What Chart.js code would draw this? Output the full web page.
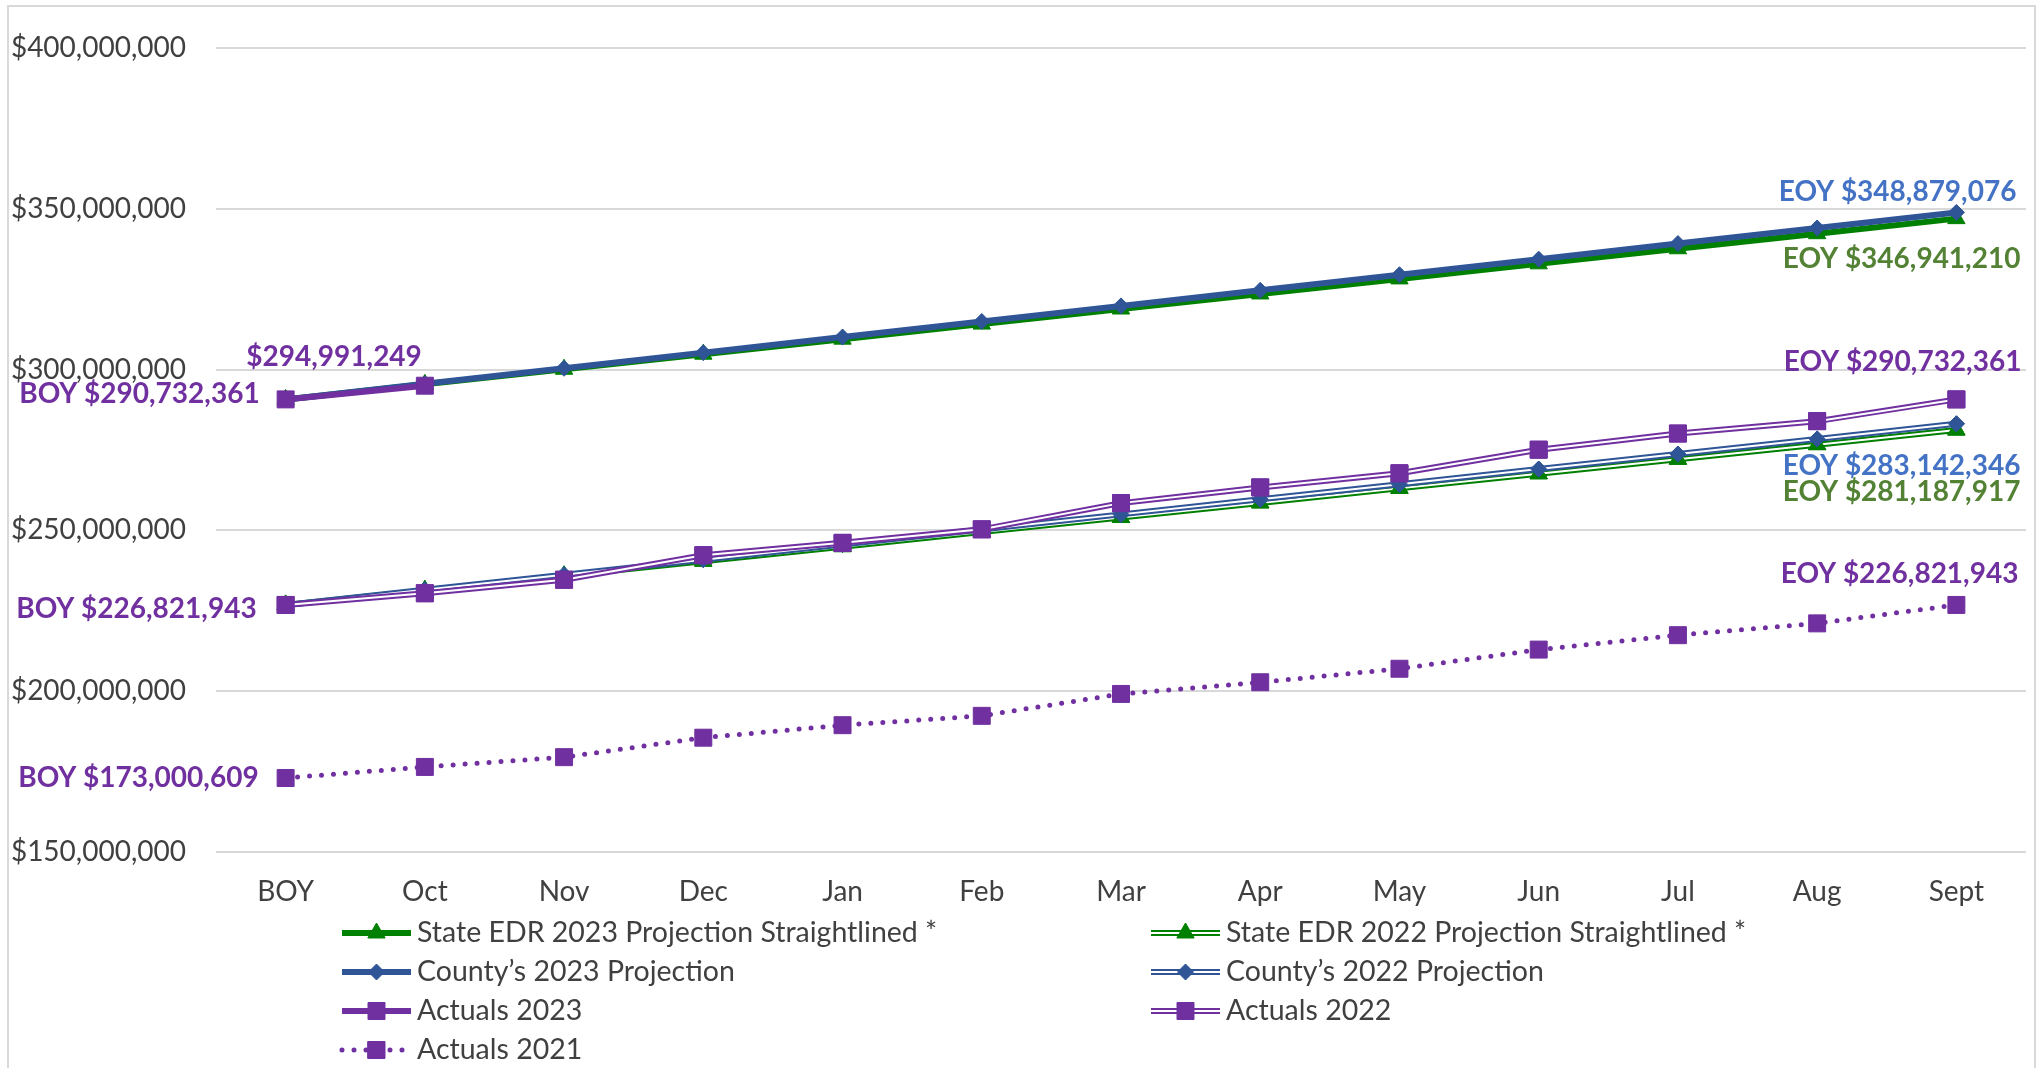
<!DOCTYPE html>
<html>
<head>
<meta charset="utf-8">
<script src="https://cdn.jsdelivr.net/npm/chart.js@4.4.1/dist/chart.umd.min.js"></script>
<style>
  html, body { margin: 0; padding: 0; background: #fff; }
  #wrap { position: relative; width: 2039px; height: 1068px; }
</style>
</head>
<body>
<div id="wrap"><canvas id="myChart" width="2039" height="1068"></canvas></div>
<script>
const categories = ['BOY', 'Oct', 'Nov', 'Dec', 'Jan', 'Feb', 'Mar', 'Apr', 'May', 'Jun', 'Jul', 'Aug', 'Sept'];

// values (the two "straightlined" series are straight in the source)
const stateEdr2023 = [290732361, 295416432, 300100503, 304784573, 309468644, 314152715, 318836786,
                      323520856, 328204927, 332888998, 337573068, 342257139, 346941210];
const stateEdr2022 = [226821943, 231352441, 235882939, 240413437, 244943934, 249474432, 254004930,
                      258535428, 263065926, 267596424, 272126922, 276657419, 281187917];
const county2023 = [290732361, 295577921, 300423480, 305269040, 310114600, 314960159, 319805719,
                    324651278, 329496838, 334342398, 339187957, 344033517, 348879076];
const county2022 = [226821943, 231515310, 236208677, 240902044, 245595411, 250288778, 254982145,
                    259675512, 264368879, 269062246, 273755613, 278448980, 283142346];
const actuals2023 = [290732361, 294991249, null, null, null, null, null, null, null, null, null, null, null];
const actuals2022 = [226821943, 230460000, 234660000, 242280000, 246130000, 250330000, 258480000,
                     263370000, 267760000, 275100000, 280120000, 283970000, 290732361];
const actuals2021 = [173000609, 176450000, 179490000, 185540000, 189430000, 192340000, 199150000,
                     202780000, 206980000, 212940000, 217420000, 221090000, 226821943];

const yTickValues = [150000000, 200000000, 250000000, 300000000, 350000000, 400000000];

const PURPLE = '#7030A0';
const BLUE = '#2F5597';
const GREEN = '#008000';
const LBL_BLUE = '#4472C4';
const LBL_GREEN = '#548235';
const TEXT = '#404040';
const FONT = 'Lato';

const money = v => '$' + v.toLocaleString('en-US');

function series(label, data, color, kind, pointStyle, radius, order) {
    return {
        label: label,
        data: data,
        borderColor: color,
        backgroundColor: color,
        borderWidth: kind == 'dotted' ? 5 : 6,
        borderDash: kind == 'dotted' ? [0, 12] : [],
        borderCapStyle: kind == 'dotted' ? 'round' : 'butt',
        borderJoinStyle: 'round',
        pointStyle: pointStyle,
        pointRadius: radius,
        pointBorderWidth: 1,
        pointBackgroundColor: color,
        pointBorderColor: color,
        tension: 0,
        spanGaps: false,
        kind: kind,
        order: order
    };
}

const datasets = [
    series('State EDR 2023 Projection Straightlined *', stateEdr2023, GREEN, 'solid', 'triangle', 10, 7),
    series('State EDR 2022 Projection Straightlined *', stateEdr2022, GREEN, 'double', 'triangle', 10, 6),
    series('County\u2019s 2023 Projection', county2023, BLUE, 'solid', 'rectRot', 8, 5),
    series('County\u2019s 2022 Projection', county2022, BLUE, 'double', 'rectRot', 8, 4),
    series('Actuals 2023', actuals2023, PURPLE, 'solid', 'rect', 12, 3),
    series('Actuals 2022', actuals2022, PURPLE, 'double', 'rect', 12, 2),
    series('Actuals 2021', actuals2021, PURPLE, 'dotted', 'rect', 12, 1)
];

// BOY / EOY callouts: dataset index, point index, prefix, colour, offset from the point
const callouts = [
    [4, 0, 'BOY ', PURPLE, -26, -5, 'right'],
    [4, 1, '', PURPLE, -3, -29, 'right'],
    [2, 12, 'EOY ', LBL_BLUE, 60, -20, 'right'],
    [0, 12, 'EOY ', LBL_GREEN, 64, 40, 'right'],
    [5, 12, 'EOY ', PURPLE, 65, -37, 'right'],
    [3, 12, 'EOY ', LBL_BLUE, 64, 42, 'right'],
    [1, 12, 'EOY ', LBL_GREEN, 64, 62, 'right'],
    [5, 0, 'BOY ', PURPLE, -29, 4, 'right'],
    [6, 12, 'EOY ', PURPLE, 62, -31, 'right'],
    [6, 0, 'BOY ', PURPLE, -27, 0, 'right']
];

const legendCols = [342, 1151];
const legendRows = [933, 972, 1011, 1050];

function markerAt(ctx, ds, x, y) {
    ctx.fillStyle = ds.pointBackgroundColor;
    ctx.strokeStyle = ds.pointBorderColor;
    ctx.lineWidth = 1;
    ctx.setLineDash([]);
    Chart.helpers.drawPoint(ctx, {pointStyle: ds.pointStyle, radius: ds.pointRadius, rotation: 0, borderWidth: 1}, x, y);
}

const frame = {
    id: 'frame',
    beforeDraw(chart) {
        const ctx = chart.ctx;
        ctx.save();
        ctx.fillStyle = '#fff';
        ctx.fillRect(0, 0, chart.width, chart.height);
        ctx.strokeStyle = '#d9d9d9';
        ctx.lineWidth = 2;
        ctx.strokeRect(8, 6, 2027, 1100);
        ctx.restore();
    }
};

// Excel "double" compound lines: white core over the coloured stroke, then markers again
const doubleLine = {
    id: 'doubleLine',
    afterDatasetDraw(chart, args) {
        const ds = chart.data.datasets[args.index];
        if (ds.kind != 'double') return;
        const ctx = chart.ctx;
        const pts = args.meta.data;
        ctx.save();
        ctx.beginPath();
        pts.forEach((p, i) => i == 0 ? ctx.moveTo(p.x, p.y) : ctx.lineTo(p.x, p.y));
        ctx.strokeStyle = '#fff';
        ctx.lineWidth = 2;
        ctx.lineJoin = 'round';
        ctx.stroke();
        ctx.restore();
        pts.forEach(p => p.draw(ctx, chart.chartArea));
    }
};

const legendBox = {
    id: 'legendBox',
    afterDraw(chart) {
        const ctx = chart.ctx;
        ctx.save();
        chart.data.datasets.forEach((ds, i) => {
            const x = legendCols[i % 2];
            const y = legendRows[Math.floor(i / 2)];
            ctx.beginPath();
            ctx.moveTo(x, y);
            ctx.lineTo(x + 69, y);
            ctx.strokeStyle = ds.borderColor;
            ctx.lineWidth = ds.borderWidth;
            ctx.lineCap = ds.borderCapStyle;
            ctx.setLineDash(ds.borderDash);
            ctx.stroke();
            if (ds.kind == 'double') {
                ctx.beginPath();
                ctx.moveTo(x, y);
                ctx.lineTo(x + 69, y);
                ctx.strokeStyle = '#fff';
                ctx.lineWidth = 2;
                ctx.stroke();
            }
            markerAt(ctx, ds, x + 34.5, y);
            ctx.fillStyle = TEXT;
            ctx.font = '28.5px ' + FONT;
            ctx.textAlign = 'left';
            ctx.textBaseline = 'middle';
            ctx.fillText(ds.label, x + 75, y);
        });
        ctx.restore();
    }
};

const calloutLabels = {
    id: 'calloutLabels',
    afterDraw(chart) {
        const ctx = chart.ctx;
        ctx.save();
        ctx.font = 'bold 28px ' + FONT;
        ctx.textBaseline = 'middle';
        callouts.forEach(c => {
            const [di, pi, prefix, color, dx, dy, align] = c;
            const pt = chart.getDatasetMeta(di).data[pi];
            ctx.fillStyle = color;
            ctx.textAlign = align;
            ctx.fillText(prefix + money(chart.data.datasets[di].data[pi]), pt.x + dx, pt.y + dy);
        });
        ctx.restore();
    }
};

const ctx = document.getElementById('myChart').getContext('2d');
const myChart = new Chart(ctx, {
    type: 'line',
    data: {
        labels: categories,
        datasets: datasets
    },
    options: {
        responsive: false,
        animation: false,
        devicePixelRatio: 1,
        layout: {
            padding: {left: 0, right: 8, top: 48, bottom: 0}
        },
        plugins: {
            legend: {display: false},
            tooltip: {enabled: false},
            title: {display: false}
        },
        scales: {
            x: {
                offset: true,
                grid: {display: false},
                border: {display: false},
                ticks: {
                    color: TEXT,
                    font: {family: FONT, size: 28},
                    padding: 15,
                    maxRotation: 0
                },
                afterFit: s => { s.height = 216; }
            },
            y: {
                min: 150000000,
                max: 400000000,
                grid: {color: '#d9d9d9', lineWidth: 2, drawTicks: false},
                border: {display: false},
                afterBuildTicks: s => { s.ticks = yTickValues.map(v => ({value: v})); },
                ticks: {
                    color: TEXT,
                    font: {family: FONT, size: 28},
                    padding: 30,
                    callback: v => money(v)
                },
                afterFit: s => { s.width = 216; }
            }
        }
    },
    plugins: [frame, doubleLine, legendBox, calloutLabels]
});
</script>
</body>
</html>
